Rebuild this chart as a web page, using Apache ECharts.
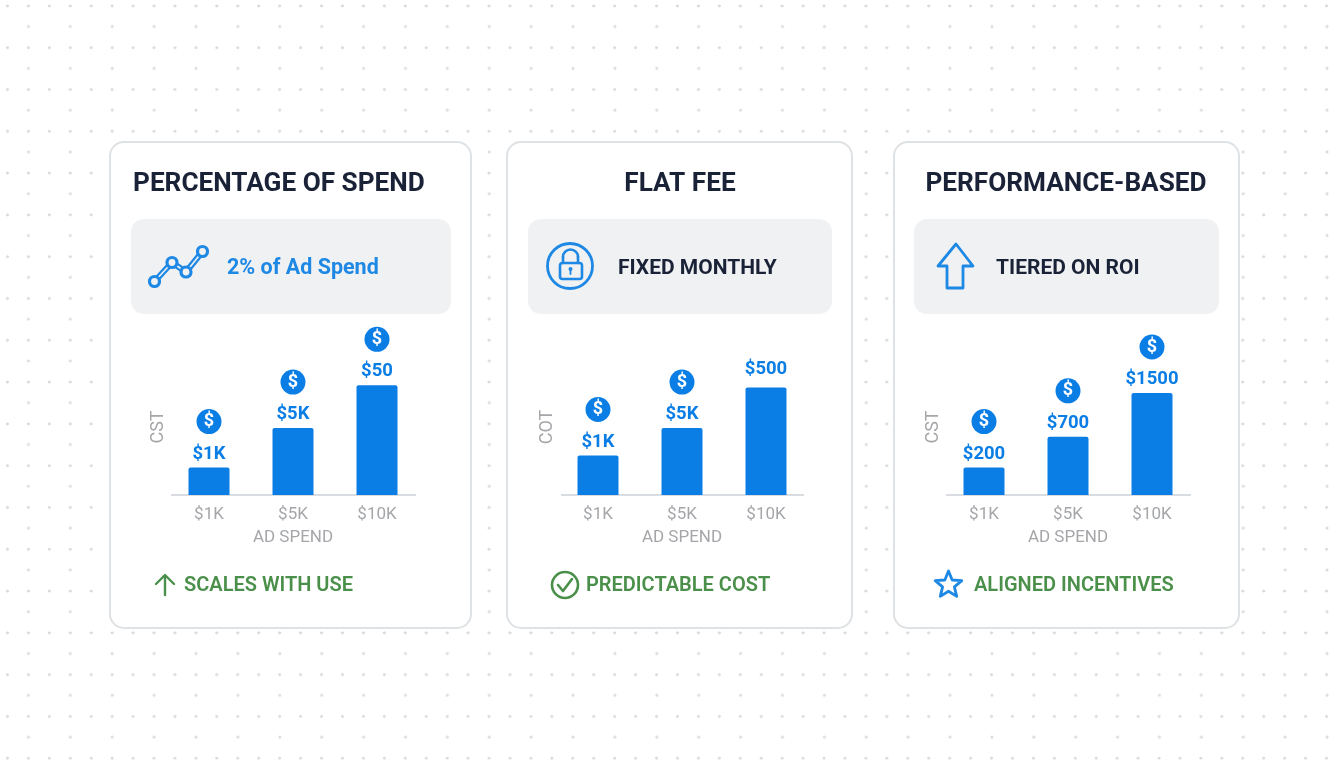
<!DOCTYPE html>
<html>
<head>
<meta charset="utf-8">
<title>Pricing models</title>
<script src="https://cdn.jsdelivr.net/npm/echarts@6/dist/echarts.min.js"></script>
<style>
    html, body { margin: 0; padding: 0; background: #fff; }
    /* dotted backdrop: full rows alternate with rows at half density */
    #main {
        width: 1344px; height: 768px;
        background-color: #fff;
        background-image:
            radial-gradient(circle at center, #d9dbdd 1.2px, transparent 1.8px),
            radial-gradient(circle at center, #d9dbdd 1.2px, transparent 1.8px);
        background-size: 20.95px 41.8px, 41.9px 41.8px;
        background-position: -3px -15px, 7.5px 5.7px;
    }
</style>
</head>
<body>
<div id="main"></div>
<script>
// card texts
var cardTitles = ["PERCENTAGE OF SPEND", "FLAT FEE", "PERFORMANCE-BASED"];
var panelTexts = ["2% of Ad Spend", "FIXED MONTHLY", "TIERED ON ROI"];
var benefitTexts = ["SCALES WITH USE", "PREDICTABLE COST", "ALIGNED INCENTIVES"];
var yNames = ["CST", "COT", "CST"];
var xName = "AD SPEND";

// ad spend tiers, same for all three cards
var categories = ["$1K", "$5K", "$10K"];

// bar heights as drawn (the printed labels do not scale with them)
var percentHeights = [25, 61, 100];
var flatHeights = [36, 61, 98];
var performanceHeights = [25, 53, 93];

// printed bar labels
var percentLabels = ["$1K", "$5K", "$50"];
var flatLabels = ["$1K", "$5K", "$500"];
var performanceLabels = ["$200", "$700", "$1500"];

// coin badge above the label: the $500 bar has none
var percentBadges = [true, true, true];
var flatBadges = [true, true, false];
var performanceBadges = [true, true, true];

var BLUE = "#1e88e5";
var BAR_BLUE = "#0b7ee6";
var DARK = "#1a2238";
var GREEN = "#4a8f4a";
var GRAY = "#a4a6a9";
var PANEL = "#f0f1f3";
var FONT = "Roboto";

var cards = [
    {x: 110, w: 361, panelX: 131, panelW: 320, gridX: 167, axisX1: 171, axisX2: 416, heights: percentHeights, labels: percentLabels, badges: percentBadges},
    {x: 507, w: 345, panelX: 528, panelW: 304, gridX: 556, axisX1: 561, axisX2: 804, heights: flatHeights, labels: flatLabels, badges: flatBadges},
    {x: 894, w: 345, panelX: 914, panelW: 305, gridX: 942, axisX1: 946, axisX2: 1191, heights: performanceHeights, labels: performanceLabels, badges: performanceBadges}
];
var titleX = [133, 680, 1066];
var titleAlign = ["left", "center", "center"];
var panelTextX = [227, 618, 996];
var benefitTextX = [184, 586, 974];

function text(x, y, str, size, weight, color, align) {
    return {
        type: "text", x: x, y: y,
        style: {
            text: str, fontFamily: FONT, fontSize: size, fontWeight: weight,
            fill: color, align: align || "left", verticalAlign: "middle"
        }
    };
}

function stroke(type, shape, color, width, fill) {
    return {
        type: type, shape: shape,
        style: {stroke: color, fill: fill || null, lineWidth: width, lineJoin: "round", lineCap: "round"}
    };
}

function starPoints(cx, cy, outer, inner) {
    var pts = [];
    for (var i = 0; i < 10; i++) {
        var r = i % 2 ? inner : outer;
        var a = -Math.PI / 2 + i * Math.PI / 5;
        pts.push([cx + r * Math.cos(a), cy + r * Math.sin(a)]);
    }
    return pts;
}

// icons are plain decoration, the marks come from the series below
var lineIconPts = [[154.5, 281.5], [172, 262.5], [186, 272], [202.5, 251.5]];
var icons = [
    stroke("polyline", {points: lineIconPts}, BLUE, 6),
    stroke("polyline", {points: lineIconPts}, PANEL, 1.6)
];
for (var k = 0; k < lineIconPts.length; k++) {
    icons.push(stroke("circle", {cx: lineIconPts[k][0], cy: lineIconPts[k][1], r: 5}, BLUE, 3.2, PANEL));
}
icons = icons.concat([
    // lock
    stroke("circle", {cx: 570, cy: 266, r: 22.5}, BLUE, 2.8),
    stroke("rect", {x: 560, y: 263, width: 22, height: 16, r: 2.5}, BLUE, 2.6),
    stroke("arc", {cx: 570.5, cy: 257, r: 7.5, startAngle: Math.PI, endAngle: 0, clockwise: true}, BLUE, 2.6),
    stroke("polyline", {points: [[563, 257], [563, 263]]}, BLUE, 2.6),
    stroke("polyline", {points: [[578, 257], [578, 263]]}, BLUE, 2.6),
    {type: "circle", shape: {cx: 570.5, cy: 269, r: 2}, style: {fill: BLUE}},
    stroke("polyline", {points: [[570.5, 270], [570.5, 274]]}, BLUE, 1.8),
    // arrow on the third panel
    stroke("polygon", {points: [[956, 244], [973, 266], [963, 266], [963, 288], [947, 288], [947, 266], [938, 266]]}, BLUE, 2.8),
    // up arrow
    stroke("polyline", {points: [[165, 576], [165, 595]]}, GREEN, 2.4),
    stroke("polyline", {points: [[156, 584], [165, 575], [174, 584]]}, GREEN, 2.4),
    // check
    stroke("circle", {cx: 565, cy: 585, r: 13}, GREEN, 2.6),
    stroke("polyline", {points: [[558, 585], [563, 591], [572, 579]]}, GREEN, 2.6),
    // star
    stroke("polygon", {points: starPoints(948.5, 585, 14, 6.2)}, BLUE, 2.8)
]);

var graphics = [];
var grids = [], xAxes = [], yAxes = [], series = [];

function labelFormatter(labels, badges) {
    return function (p) {
        if (!badges[p.dataIndex]) {
            return "{solo|" + labels[p.dataIndex] + "}";
        }
        return "{icon|$}\n{val|" + labels[p.dataIndex] + "}";
    };
}

for (var i = 0; i < cards.length; i++) {
    var c = cards[i];
    graphics.push({
        type: "rect",
        shape: {x: c.x, y: 142, width: c.w, height: 486, r: 14},
        style: {fill: "#fff", stroke: "#dfe2e4", lineWidth: 2}
    });
    graphics.push({
        type: "rect",
        shape: {x: c.panelX, y: 219, width: c.panelW, height: 95, r: 13},
        style: {fill: PANEL}
    });
    graphics.push(text(titleX[i], 184, cardTitles[i], 26.2, 700, DARK, titleAlign[i]));
    graphics.push(text(panelTextX[i], 269, panelTexts[i], i === 0 ? 21.5 : 21, 700, i === 0 ? BLUE : DARK));
    graphics.push(text(benefitTextX[i], 586, benefitTexts[i], 20, 600, GREEN));
    // baseline runs a little shorter than the category bands
    graphics.push({
        type: "line",
        shape: {x1: c.axisX1, y1: 495, x2: c.axisX2, y2: 495},
        style: {stroke: "#d9dde1", lineWidth: 2}
    });

    grids.push({left: c.gridX, width: 252, top: 359, height: 136});
    xAxes.push({
        type: "category", gridIndex: i, data: categories,
        axisLine: {show: false}, axisTick: {show: false},
        axisLabel: {color: GRAY, fontFamily: FONT, fontSize: 17, margin: 11},
        name: xName, nameLocation: "middle", nameGap: 34,
        nameTextStyle: {color: GRAY, fontFamily: FONT, fontSize: 17}
    });
    yAxes.push({
        type: "value", gridIndex: i, min: 0, max: 124,
        splitLine: {show: false}, axisLine: {show: false},
        axisTick: {show: false}, axisLabel: {show: false},
        name: yNames[i], nameLocation: "middle", nameGap: 0, nameRotate: 90,
        nameTextStyle: {color: GRAY, fontFamily: FONT, fontSize: 18}
    });
    series.push({
        type: "bar", xAxisIndex: i, yAxisIndex: i,
        data: c.heights, barWidth: 41,
        itemStyle: {color: BAR_BLUE, borderRadius: [2, 2, 0, 0]},
        label: {
            show: true, position: "top", distance: 1.5,
            formatter: labelFormatter(c.labels, c.badges),
            rich: {
                icon: {
                    width: 25, height: 25, borderRadius: 13, backgroundColor: BAR_BLUE,
                    color: "#fff", align: "center", verticalAlign: "middle",
                    fontFamily: FONT, fontWeight: 700, fontSize: 18, lineHeight: 25
                },
                val: {
                    color: BAR_BLUE, align: "center", fontFamily: FONT,
                    fontWeight: 700, fontSize: 18.5, lineHeight: 32, padding: [8, 0, 0, 0]
                },
                solo: {
                    color: BAR_BLUE, align: "center", fontFamily: FONT,
                    fontWeight: 700, fontSize: 18.5, lineHeight: 32, padding: [0, 0, 2, 0]
                }
            }
        }
    });
}

var chart = echarts.init(document.getElementById("main"));
chart.setOption({
    animation: false,
    graphic: {elements: graphics.concat(icons)},
    grid: grids,
    xAxis: xAxes,
    yAxis: yAxes,
    series: series
});
</script>
</body>
</html>
